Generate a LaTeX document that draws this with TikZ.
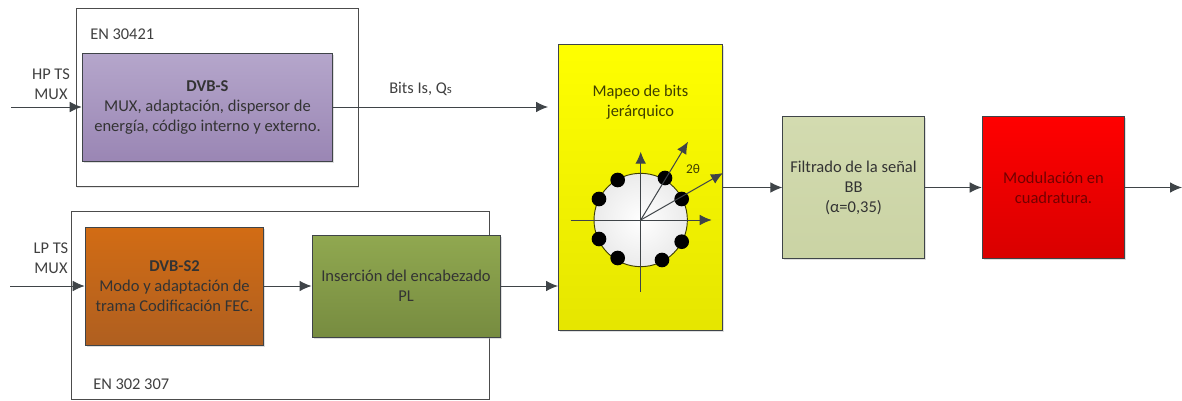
\documentclass[tikz,border=0pt]{standalone}
\usepackage{fontspec}
\setmainfont{Carlito}
\usetikzlibrary{arrows.meta,shadows}
\definecolor{moradoA}{HTML}{B5A6CB}
\definecolor{moradoB}{HTML}{9A86B4}
\definecolor{naranjaA}{HTML}{D26C14}
\definecolor{naranjaB}{HTML}{AF5F20}
\definecolor{verdeA}{HTML}{90A850}
\definecolor{verdeB}{HTML}{778C40}
\definecolor{salviaA}{HTML}{D3DBB0}
\definecolor{salviaB}{HTML}{CAD3A4}
\definecolor{linea}{HTML}{3F4448}
\definecolor{oliva}{HTML}{3F3F00}
\tikzset{
  flecha/.style={draw=linea, line width=0.75pt, -{Latex[length=9pt,width=8pt]}},
  marco/.style={draw=black!70, fill=white, line width=0.7pt, drop shadow={shadow xshift=1pt, shadow yshift=-1pt, fill=black!20}},
  bloque/.style={draw=linea, line width=0.7pt, align=center, font=\fontsize{12.4pt}{15pt}\selectfont, inner sep=0pt, drop shadow={shadow xshift=1.2pt, shadow yshift=-1.2pt, fill=black!25}},
  etiqueta/.style={font=\fontsize{12.3pt}{15pt}\selectfont, text=black!75, align=center, inner sep=0pt},
  punto/.style={circle, fill=black, minimum size=11pt, inner sep=0pt},
}
\begin{document}
\begin{tikzpicture}[x=0.75pt, y=-0.75pt]
\useasboundingbox (0,0) rectangle (1182,400);

% marcos
\node[marco, minimum width=211.5pt, minimum height=134pt, inner sep=0pt] (marcoS) at (217,97.5) {};
\node[marco, minimum width=313.5pt, minimum height=141pt, inner sep=0pt] (marcoSS) at (280,305) {};
\node[etiqueta, anchor=west] (norma1) at (90,34) {EN 30421};
\node[etiqueta, anchor=west] (norma2) at (93,384) {EN 302 307};

% bloques
\node[bloque, top color=moradoA, bottom color=moradoB, text=black!80, minimum width=188pt, minimum height=81pt] (dvbs) at (207.5,107) {\textbf{DVB-S}\\MUX, adaptación, dispersor de\\energía, código interno y externo.};
\node[bloque, top color=naranjaA, bottom color=naranjaB, text=black!80, minimum width=134pt, minimum height=88.5pt] (dvbss) at (174.5,286) {\textbf{DVB-S2}\\Modo y adaptación de\\trama Codificación FEC.};
\node[bloque, top color=verdeA, bottom color=verdeB, text=black!80, minimum width=141pt, minimum height=76.5pt] (encab) at (406,286) {Inserción del encabezado\\PL};
\node[bloque, top color=yellow, bottom color=yellow!90!black, minimum width=123.5pt, minimum height=215pt] (mapeo) at (640.5,187.5) {};
\node[etiqueta, text=oliva] (mapeotxt) at (640.5,102) {Mapeo de bits\\jerárquico};
\node[bloque, top color=salviaA, bottom color=salviaB, text=black!80, minimum width=106pt, minimum height=107pt] (filtro) at (853.5,187.5) {Filtrado de la señal\\BB\\(α=0,35)};
\node[bloque, top color=red, bottom color=red!85!black, text=red!45!black, minimum width=107pt, minimum height=107pt] (modula) at (1053.5,187.5) {Modulación en\\cuadratura.};

% constelacion
\node[circle, draw=oliva, inner color=white, outer color=black!8, line width=0.7pt, minimum size=70pt, inner sep=0pt] (circulo) at (640.7,220) {};
\coordinate (ejeO) at (570.7,220);
\coordinate (ejeE) at (711.7,220);
\coordinate (ejeS) at (640.7,291.7);
\coordinate (ejeN) at (640.7,151.7);
\coordinate (rayo1) at (688,141.7);
\coordinate (rayo2) at (723,173);
\draw[flecha] (ejeO) -- (ejeE);
\draw[flecha] (ejeS) -- (ejeN);
\node[punto] (p1) at (665,178) {};
\node[punto] (p2) at (681.7,199) {};
\node[punto] (p3) at (681.7,241.7) {};
\node[punto] (p4) at (662,260) {};
\node[punto] (p5) at (617.7,258) {};
\node[punto] (p6) at (599,239) {};
\node[punto] (p7) at (599,199) {};
\node[punto] (p8) at (617.7,180) {};
\draw[flecha] (circulo.center) -- (rayo1);
\draw[flecha] (circulo.center) -- (rayo2);
\node[etiqueta, text=oliva, font=\fontsize{10pt}{12pt}\selectfont] (angulo) at (693,169) {2θ};

% conexiones
\coordinate (entHP) at (11,107);
\coordinate (entLP) at (10,286);
\coordinate (finBits) at (548,107);
\coordinate (finPL) at (558,286);
\coordinate (salida) at (1182,187.5);
\draw[flecha] (entHP) -- (dvbs.west);
\draw[flecha] (entLP) -- (dvbss.west);
\draw[flecha] (dvbs.east) -- (finBits);
\draw[flecha] (dvbss.east) -- (encab.west);
\draw[flecha] (encab.east) -- (finPL);
\draw[flecha] (mapeo.east) -- (filtro.west);
\draw[flecha] (filtro.east) -- (modula.west);
\draw[flecha] (modula.east) -- (salida);

\node[etiqueta] (hp) at (51,84) {HP TS\\MUX};
\node[etiqueta] (lp) at (51,258.5) {LP TS\\MUX};
\node[etiqueta, anchor=west] (bits) at (389,89) {Bits Is, Q{\fontsize{9.5pt}{12pt}\selectfont s}};
\end{tikzpicture}
\end{document}
